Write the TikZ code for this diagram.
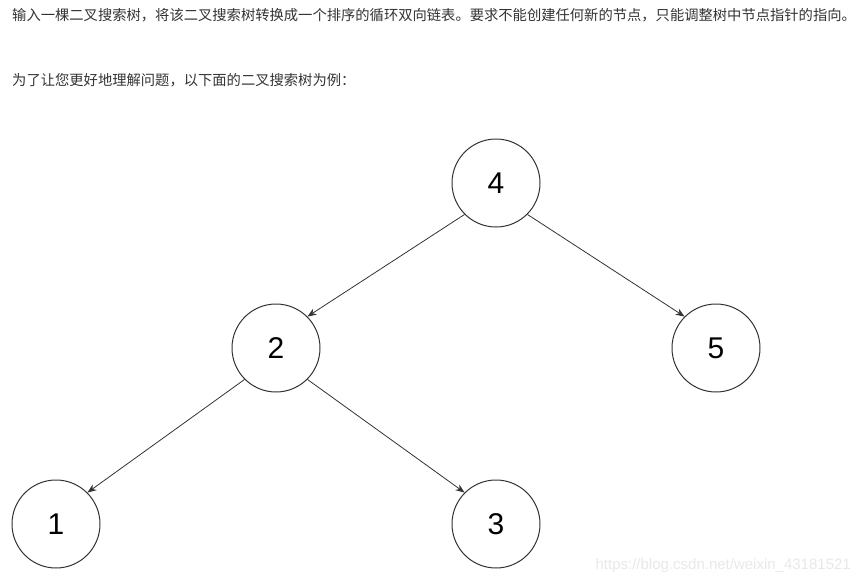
\documentclass[tikz,border=0pt]{standalone}
\usepackage{fontspec}
\setmainfont{Liberation Sans}
\newfontfamily\cjk{Noto Sans CJK SC}
\usetikzlibrary{arrows.meta,positioning}
\definecolor{ink}{HTML}{333333}
\definecolor{mark}{HTML}{E8E8E8}

\begin{document}
\begin{tikzpicture}[
  x=1pt, y=-1pt,
  tnode/.style={draw=ink, circle, line width=1pt, minimum size=88pt, inner sep=0pt, font=\fontsize{30}{30}\selectfont, text=black},
  para/.style={anchor=west, inner sep=0pt, font=\cjk\fontsize{14.3}{16}\selectfont, text=ink},
  arrow/.style={-{Stealth[length=9pt,width=7pt]}, draw=ink, line width=0.8pt}
]
\useasboundingbox (0,0) rectangle (859,584);

\node[para] (intro) at (12,15) {输入一棵二叉搜索树，将该二叉搜索树转换成一个排序的循环双向链表。要求不能创建任何新的节点，只能调整树中节点指针的指向。};
\node[para] (hint) at (12,80) {为了让您更好地理解问题，以下面的二叉搜索树为例：};

\node[tnode] (n4) at (496,183) {4};
\node[tnode] (n2) at (276,348) {2};
\node[tnode] (n5) at (716,348) {5};
\node[tnode] (n1) at (56,524) {1};
\node[tnode] (n3) at (496,524) {3};

\draw[arrow] (n4.south west) -- (n2.north east);
\draw[arrow] (n4.south east) -- (n5.north west);
\draw[arrow] (n2.south west) -- (n1.north east);
\draw[arrow] (n2.south east) -- (n3.north west);

\node[anchor=east, inner sep=0pt, font=\fontsize{15}{15}\selectfont, text=mark] (wm) at (851,566) {https://blog.csdn.net/weixin\_43181521};

\end{tikzpicture}
\end{document}
